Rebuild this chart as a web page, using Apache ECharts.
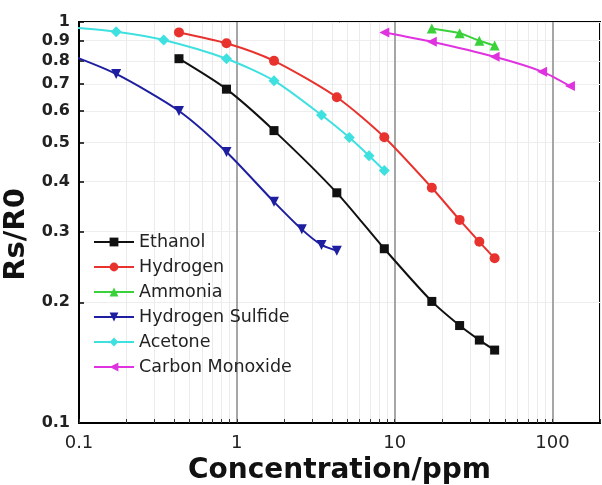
<!DOCTYPE html>
<html>
<head>
<meta charset="utf-8">
<script src="https://cdn.jsdelivr.net/npm/echarts@6/dist/echarts.min.js"></script>
<style>
html,body{margin:0;padding:0;background:#fff;}
#chart{width:602px;height:485px;}
</style>
</head>
<body>
<div id="chart"></div>
<script>
// ---- data (concentration in ppm, response Rs/R0) ----
const ethanolX  = [0.43, 0.86, 1.72, 4.3, 8.6, 17.2, 25.8, 34.4, 43];
const ethanolY  = [0.81, 0.68, 0.536, 0.375, 0.272, 0.201, 0.175, 0.161, 0.152];
const hydrogenX = [0.43, 0.86, 1.72, 4.3, 8.6, 17.2, 25.8, 34.4, 43];
const hydrogenY = [0.942, 0.885, 0.80, 0.649, 0.516, 0.386, 0.321, 0.283, 0.2575];
const ammoniaX  = [17.2, 25.8, 34.4, 43];
const ammoniaY  = [0.963, 0.937, 0.898, 0.874];
const h2sX      = [0.086, 0.172, 0.43, 0.86, 1.72, 2.58, 3.44, 4.3];
const h2sY      = [0.83, 0.742, 0.600, 0.474, 0.356, 0.304, 0.278, 0.269];
const acetoneX  = [0.086, 0.172, 0.344, 0.86, 1.72, 3.44, 5.16, 6.88, 8.6];
const acetoneY  = [0.97, 0.946, 0.902, 0.81, 0.714, 0.586, 0.515, 0.464, 0.426];
const coX       = [8.6, 17.2, 43, 86, 129];
const coY       = [0.942, 0.893, 0.819, 0.752, 0.692];

const seriesNames = ['Ethanol', 'Hydrogen', 'Ammonia', 'Hydrogen Sulfide', 'Acetone', 'Carbon Monoxide'];
const xTickLabels = [0.1, 1, 10, 100];
const yTickLabels = [0.1, 0.2, 0.3, 0.4, 0.5, 0.6, 0.7, 0.8, 0.9, 1];
const xMin = 0.1, xMax = 200, yMin = 0.1, yMax = 1;

// ---- build ----
const L = Math.log10;
const xMinorTicks = [];
[0.1, 1, 10, 100].forEach(d => { for (let k = 1; k <= 9; k++) { const v = d * k; if (v <= xMax) xMinorTicks.push(L(v)); } });
const pts = (xs, ys) => xs.map((x, i) => [L(x), L(ys[i])]);

const FONT = '"DejaVu Sans", Verdana, sans-serif';
const styles = [
  { color: '#111111', symbol: 'rect', rotate: 0, size: 9 },
  { color: '#e8322e', symbol: 'circle', rotate: 0, size: 10 },
  { color: '#3ad13a', symbol: 'triangle', rotate: 0, size: 10 },
  { color: '#1e1ea0', symbol: 'triangle', rotate: 180, size: 10 },
  { color: '#3fe0e0', symbol: 'diamond', rotate: 0, size: 11 },
  { color: '#e033e0', symbol: 'triangle', rotate: 90, size: 10 }
];
const datasets = [
  pts(ethanolX, ethanolY), pts(hydrogenX, hydrogenY), pts(ammoniaX, ammoniaY),
  pts(h2sX, h2sY), pts(acetoneX, acetoneY), pts(coX, coY)
];

const fmtX = v => { const r = Math.pow(10, v); return r < 1 ? r.toFixed(1) : String(Math.round(r)); };
const fmtY = v => { const r = Math.pow(10, v); return r > 0.99 ? '1' : r.toFixed(1); };

const option = {
  animation: false,
  backgroundColor: '#ffffff',
  textStyle: { fontFamily: FONT },
  grid: {
    left: 79, right: 2, top: 22, bottom: 62,
    containLabel: false, outerBoundsMode: 'none',
    show: true, borderColor: '#000', borderWidth: 2, backgroundColor: 'transparent'
  },
  legend: {
    orient: 'vertical', left: 88, top: 228, itemWidth: 40, itemHeight: 11, itemGap: 7,
    textStyle: { fontFamily: FONT, fontSize: 17.5, color: '#222' },
    data: seriesNames
  },
  xAxis: [
    {
      type: 'value', min: L(xMin), max: L(xMax), position: 'bottom',
      name: 'Concentration/ppm', nameLocation: 'middle', nameGap: 25,
      nameTextStyle: { fontFamily: FONT, fontSize: 28, fontWeight: 'bold', color: '#111' },
      axisLine: { show: true, onZero: false, lineStyle: { color: '#000', width: 2 } },
      axisTick: { show: true, inside: true, length: 4, customValues: xMinorTicks, lineStyle: { color: '#333', width: 1 } },
      axisLabel: { customValues: xTickLabels.map(L), formatter: fmtX, fontSize: 18, color: '#222', margin: 11, fontFamily: FONT },
      splitLine: { show: true, lineStyle: { color: '#ebebeb', width: 1 } }
    },
    {
      type: 'value', min: L(xMin), max: L(xMax), position: 'bottom',
      axisLine: { show: false },
      axisTick: { show: false, customValues: xTickLabels.map(L) },
      axisLabel: { show: false, customValues: xTickLabels.map(L) },
      splitLine: { show: true, lineStyle: { color: '#a6a6a6', width: 2 } }
    }
  ],
  yAxis: {
    type: 'value', min: L(yMin), max: L(yMax),
    name: 'Rs/R0', nameLocation: 'middle', nameGap: 38, nameRotate: 90,
    nameTextStyle: { fontFamily: FONT, fontSize: 29, fontWeight: 'bold', color: '#111', padding: [0, 24, 0, 0] },
    axisLine: { show: true, onZero: false, lineStyle: { color: '#000', width: 2 } },
    axisTick: { show: true, inside: true, length: 5, customValues: yTickLabels.map(L), lineStyle: { color: '#000', width: 1.5 } },
    axisLabel: { customValues: yTickLabels.map(L), formatter: fmtY, fontSize: 16, fontWeight: 'bold', color: '#222', margin: 9, fontFamily: FONT },
    splitLine: { show: true, lineStyle: { color: '#eeeeee', width: 1 } }
  },
  series: seriesNames.map((n, i) => ({
    name: n, type: 'line', xAxisIndex: 0, yAxisIndex: 0,
    data: datasets[i], smooth: 0.25, clip: true,
    symbol: styles[i].symbol, symbolRotate: styles[i].rotate, symbolSize: styles[i].size,
    showAllSymbol: true,
    lineStyle: { color: styles[i].color, width: 2 },
    itemStyle: { color: styles[i].color, borderWidth: 0 }
  }))
};

const chart = echarts.init(document.getElementById('chart'), null, { renderer: 'canvas' });
chart.setOption(option);
</script>
</body>
</html>
